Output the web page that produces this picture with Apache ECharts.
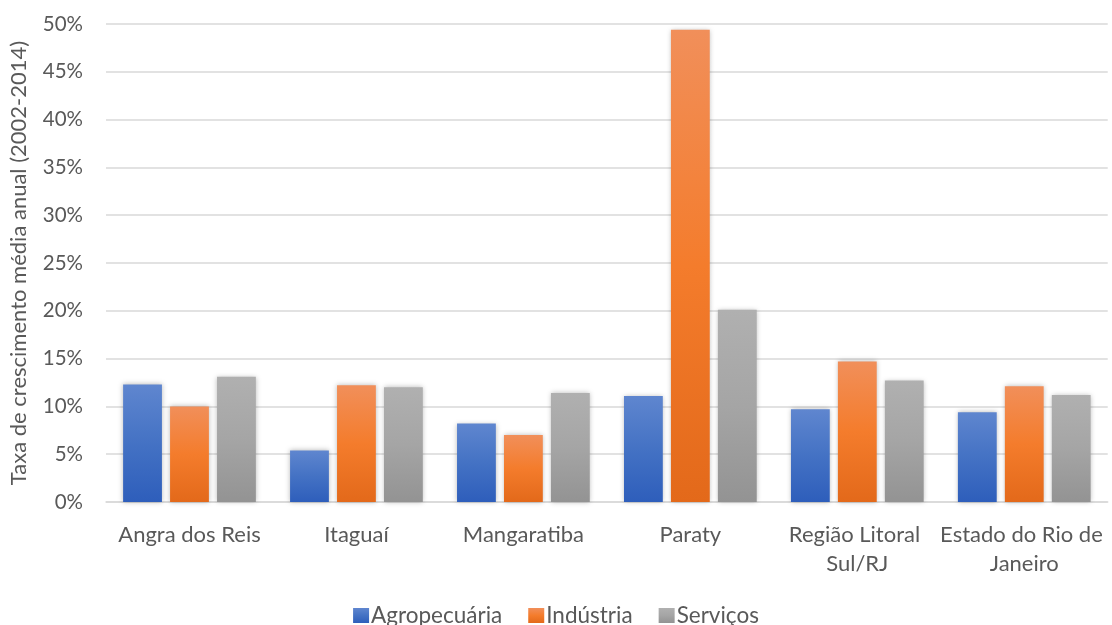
<!DOCTYPE html>
<html>
<head>
<meta charset="utf-8">
<script src="https://cdn.jsdelivr.net/npm/echarts@6/dist/echarts.min.js"></script>
<style>
html,body{margin:0;padding:0;background:#fff;}
#chart{width:1112px;height:625px;}
</style>
</head>
<body>
<div id="chart"></div>
<script>
var categories = ['Angra dos Reis', 'Itaguaí', 'Mangaratiba', 'Paraty', 'Região Litoral Sul/RJ', 'Estado do Rio de Janeiro'];
var agropecuaria = [12.3, 5.4, 8.2, 11.1, 9.7, 9.4];
var industria = [10.0, 12.2, 7.0, 49.4, 14.7, 12.1];
var servicos = [13.1, 12.0, 11.4, 20.1, 12.7, 11.2];
var yTicks = [0, 5, 10, 15, 20, 25, 30, 35, 40, 45, 50];
var seriesNames = ['Agropecuária', 'Indústria', 'Serviços'];

function grad(c0, c1, c2) {
  return new echarts.graphic.LinearGradient(0, 0, 0, 1, [
    {offset: 0, color: c0}, {offset: 0.5, color: c1}, {offset: 1, color: c2}
  ]);
}
var fills = [
  grad('#5f86cf', '#4472c4', '#2e5ebb'),
  grad('#f18f5a', '#f47c2c', '#e3691a'),
  grad('#b0b0b0', '#a5a5a5', '#939393')
];
var font = 'Lato, "Open Sans", sans-serif';

function mk(name, data, i) {
  return {
    name: name,
    type: 'bar',
    data: data,
    barGap: '21%',
    barCategoryGap: '20.5%',
    itemStyle: {
      color: fills[i],
      shadowBlur: 5,
      shadowColor: 'rgba(0,0,0,0.28)',
      shadowOffsetX: 0,
      shadowOffsetY: 0
    }
  };
}

var chart = echarts.init(document.getElementById('chart'), null, {renderer: 'canvas'});
chart.setOption({
  animation: false,
  backgroundColor: '#fff',
  grid: {left: 105, right: 2, top: 24, bottom: 123, containLabel: false},
  legend: {
    data: seriesNames,
    top: 604,
    left: 'center',
    padding: 0,
    itemWidth: 16,
    itemHeight: 15,
    itemGap: 26,
    icon: 'rect',
    textStyle: {color: '#595959', fontSize: 22.5, fontFamily: font, padding: [0, 0, 0, -3]}
  },
  xAxis: {
    type: 'category',
    data: categories,
    axisLine: {show: true, lineStyle: {color: '#d9d9d9', width: 1.5}},
    axisTick: {show: false},
    axisLabel: {
      color: '#595959', fontSize: 22, fontFamily: font, margin: 18,
      lineHeight: 29, width: 170, overflow: 'break', interval: 0
    }
  },
  yAxis: {
    type: 'value',
    min: yTicks[0],
    max: yTicks[yTicks.length - 1],
    interval: 5,
    name: 'Taxa de crescimento média anual (2002-2014)',
    nameLocation: 'middle',
    nameGap: 76,
    nameRotate: 90,
    nameTextStyle: {color: '#595959', fontSize: 22, fontFamily: font},
    axisLine: {show: false},
    axisTick: {show: false},
    splitLine: {lineStyle: {color: '#d9d9d9', width: 1.5}},
    axisLabel: {
      color: '#595959', fontSize: 20.5, fontFamily: font, margin: 23,
      formatter: function (v) { return v + '%'; }
    }
  },
  series: [
    mk(seriesNames[0], agropecuaria, 0),
    mk(seriesNames[1], industria, 1),
    mk(seriesNames[2], servicos, 2)
  ]
});
</script>
</body>
</html>
